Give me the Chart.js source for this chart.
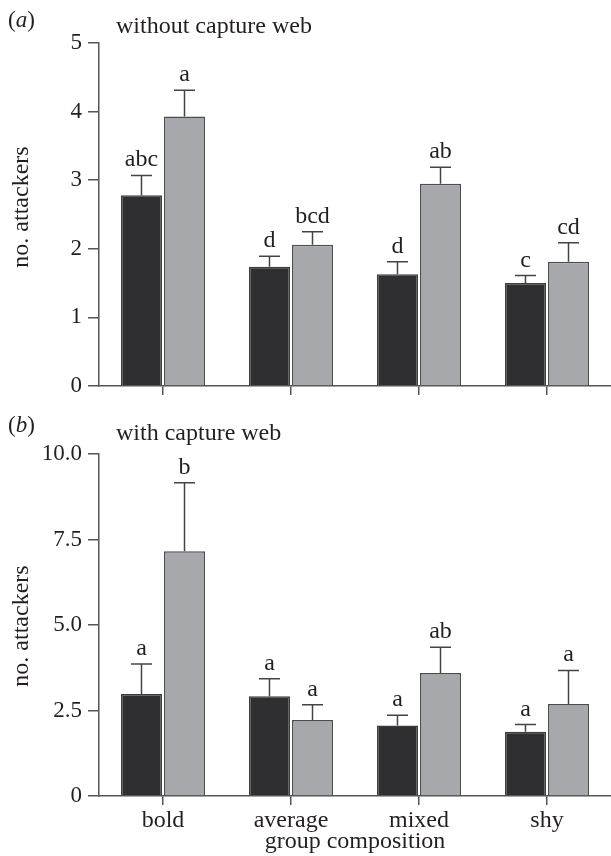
<!DOCTYPE html>
<html lang="en">
<head>
<meta charset="UTF-8">
<title>no. attackers by group composition</title>
<script src="https://cdn.jsdelivr.net/npm/chart.js"></script>
<style>
  body { margin: 0; background: #fff; }
  #wrap { width: 611px; height: 856px; position: relative; }
  canvas { display: block; }
</style>
</head>
<body>
<div id="wrap">
  <canvas id="chartA" width="611" height="410"></canvas>
  <canvas id="chartB" width="611" height="446"></canvas>
</div>
<script>
// categories
const groups = ['bold', 'average', 'mixed', 'shy'];

// (a) without capture web
const darkA = [2.78, 1.74, 1.63, 1.50];
const darkErrA = [0.29, 0.15, 0.18, 0.11];
const grayA = [3.93, 2.06, 2.95, 1.81];
const grayErrA = [0.38, 0.19, 0.24, 0.28];
const darkLettersA = ['abc', 'd', 'd', 'c'];
const grayLettersA = ['a', 'bcd', 'ab', 'cd'];
const yTicksA = [0, 1, 2, 3, 4, 5];
const yTickLabelsA = ['0', '1', '2', '3', '4', '5'];

// (b) with capture web
const darkB = [2.98, 2.92, 2.06, 1.88];
const darkErrB = [0.88, 0.51, 0.30, 0.21];
const grayB = [7.16, 2.22, 3.60, 2.69];
const grayErrB = [2.00, 0.45, 0.75, 0.98];
const darkLettersB = ['a', 'a', 'a', 'a'];
const grayLettersB = ['b', 'a', 'ab', 'a'];
const yTicksB = [0, 2.5, 5, 7.5, 10];
const yTickLabelsB = ['0', '2.5', '5.0', '7.5', '10.0'];

const SERIF = '"Liberation Serif", "Times New Roman", serif';
const TXT = '#231f20';
const AXIS = '#555';

// error bars (upper only) + significance letters
const errorBars = {
  id: 'errorBars',
  afterDatasetsDraw(chart) {
    const ctx = chart.ctx;
    const y = chart.scales.y;
    ctx.save();
    chart.data.datasets.forEach((ds, i) => {
      chart.getDatasetMeta(i).data.forEach((bar, j) => {
        const top = y.getPixelForValue(ds.data[j] + ds.errors[j]);
        ctx.strokeStyle = '#444';
        ctx.lineWidth = 1.5;
        ctx.beginPath();
        ctx.moveTo(bar.x, bar.y);
        ctx.lineTo(bar.x, top);
        ctx.moveTo(bar.x - 10.5, top);
        ctx.lineTo(bar.x + 10.5, top);
        ctx.stroke();
        ctx.fillStyle = TXT;
        ctx.font = '24px ' + SERIF;
        ctx.textAlign = 'center';
        ctx.textBaseline = 'alphabetic';
        ctx.fillText(ds.letters[j], bar.x, top - 9);
      });
    });
    ctx.restore();
  }
};

// panel tag "(a)", heading and the y axis title
function panelLabel(tag, heading, tagY, headY, yTitleY) {
  return {
    id: 'panelLabel',
    afterDraw(chart) {
      const ctx = chart.ctx;
      ctx.save();
      ctx.fillStyle = TXT;
      ctx.textBaseline = 'alphabetic';
      ctx.textAlign = 'left';
      ctx.font = '23px ' + SERIF;
      ctx.fillText('(', 8, tagY);
      let x = 8 + ctx.measureText('(').width;
      ctx.font = 'italic 23px ' + SERIF;
      ctx.fillText(tag, x, tagY);
      x += ctx.measureText(tag).width;
      ctx.font = '23px ' + SERIF;
      ctx.fillText(')', x, tagY);
      ctx.font = '24px ' + SERIF;
      ctx.fillText(heading, 116, headY);
      // y title
      ctx.translate(22, yTitleY);
      ctx.rotate(-Math.PI / 2);
      ctx.textAlign = 'center';
      ctx.textBaseline = 'middle';
      ctx.fillText('no. attackers', 0, 0);
      ctx.restore();
    }
  };
}

function makePanel(id, dark, darkErr, darkLetters, gray, grayErr, grayLetters, yMax, ticks, tickLabels, padTop, showX, xHeight, label) {
  const font = { family: SERIF, size: 24 };
  return new Chart(document.getElementById(id), {
    type: 'bar',
    data: {
      labels: groups,
      datasets: [
        { data: dark, errors: darkErr, letters: darkLetters,
          backgroundColor: '#2f2e31', borderColor: '#3d3d3d', borderWidth: 1.5,
          categoryPercentage: 0.672, barPercentage: 0.953 },
        { data: gray, errors: grayErr, letters: grayLetters,
          backgroundColor: '#a7a8ab', borderColor: '#4d4d4d', borderWidth: 1.5,
          categoryPercentage: 0.672, barPercentage: 0.953 }
      ]
    },
    options: {
      responsive: false,
      animation: false,
      layout: { padding: { top: padTop, right: 0, bottom: 0, left: 0 } },
      plugins: { legend: { display: false }, tooltip: { enabled: false } },
      scales: {
        x: {
          grid: { drawOnChartArea: false, offset: false, tickLength: 9, color: AXIS, lineWidth: 1.5 },
          border: { color: AXIS, width: 1.5 },
          ticks: { display: showX, font: font, color: TXT, padding: 1, maxRotation: 0 },
          title: { display: showX, text: 'group composition', font: font, color: TXT, padding: { top: 0, bottom: 0 } },
          afterFit: s => { s.height = xHeight; }
        },
        y: {
          min: 0, max: yMax,
          afterBuildTicks: s => { s.ticks = ticks.map(v => ({ value: v })); },
          ticks: { font: { family: SERIF, size: 23 }, color: TXT, padding: 6, callback: (v, i) => tickLabels[i] },
          grid: { drawOnChartArea: false, tickLength: 11, color: AXIS, lineWidth: 1.5 },
          border: { color: AXIS, width: 1.5 },
          title: { display: false },
          afterFit: s => { s.width = 99; }
        }
      }
    },
    plugins: [errorBars, label]
  });
}

makePanel('chartA', darkA, darkErrA, darkLettersA, grayA, grayErrA, grayLettersA,
  5, yTicksA, yTickLabelsA, 43, false, 24, panelLabel('a', 'without capture web', 27, 33, 207));
makePanel('chartB', darkB, darkErrB, darkLettersB, grayB, grayErrB, grayLettersB,
  10, yTicksB, yTickLabelsB, 44, true, 60, panelLabel('b', 'with capture web', 22, 30, 216));
</script>
</body>
</html>
